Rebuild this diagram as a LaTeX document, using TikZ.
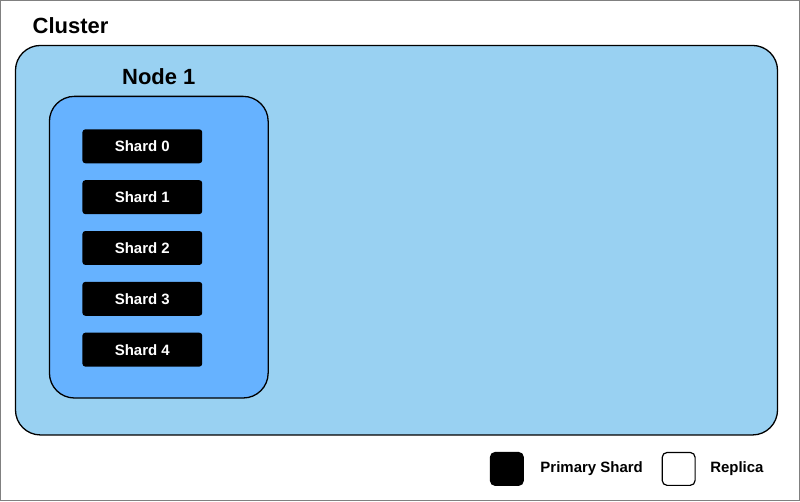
\documentclass[tikz,border=0pt]{standalone}
\usepackage{fontspec}
\setmainfont{Liberation Sans}
\usetikzlibrary{positioning}

\begin{document}
\begin{tikzpicture}
		[x=1pt, y=-1pt,
		 group/.style={draw=black, line width=1.3pt, rounded corners=25pt},
		 shard/.style={rectangle, fill=black, text=white, rounded corners=3pt, minimum width=120pt, minimum height=34pt, inner sep=0pt, font=\fontsize{15}{18}\selectfont\bfseries, node distance=16.5pt},
		 legendbox/.style={rectangle, draw=black, line width=1.2pt, rounded corners=5pt, minimum size=33pt, inner sep=0pt},
		 legendtext/.style={font=\fontsize{15}{18}\selectfont\bfseries},
		 title/.style={font=\fontsize{22}{26}\selectfont\bfseries}]
		\definecolor{clusterblue}{HTML}{99D1F2}
		\definecolor{nodeblue}{HTML}{66B2FF}
		\draw[gray, line width=1pt, fill=white] (0,0) rectangle (800,501);
		\useasboundingbox (0,0) rectangle (800,501);
		\node[title, anchor=west, inner sep=0pt] (cluster) at (32,25) {Cluster};
		\draw[group, fill=clusterblue] (15,45) rectangle (778,435);
		\node[title] (node1) at (158.5,76) {Node 1};
		\draw[group, fill=nodeblue] (49,96) rectangle (268,398);
		\node[shard] (s0) at (142,146) {Shard 0};
		\node[shard, below=of s0] (s1) {Shard 1};
		\node[shard, below=of s1] (s2) {Shard 2};
		\node[shard, below=of s2] (s3) {Shard 3};
		\node[shard, below=of s3] (s4) {Shard 4};
		\node[legendbox, fill=black] (primary) at (507,469) {};
		\node[legendtext, right=13pt of primary] (primarytext) {Primary Shard};
		\node[legendbox, fill=white] (replica) at (679,469) {};
		\node[legendtext, right=11pt of replica] (replicatext) {Replica};
	\end{tikzpicture}
\end{document}
